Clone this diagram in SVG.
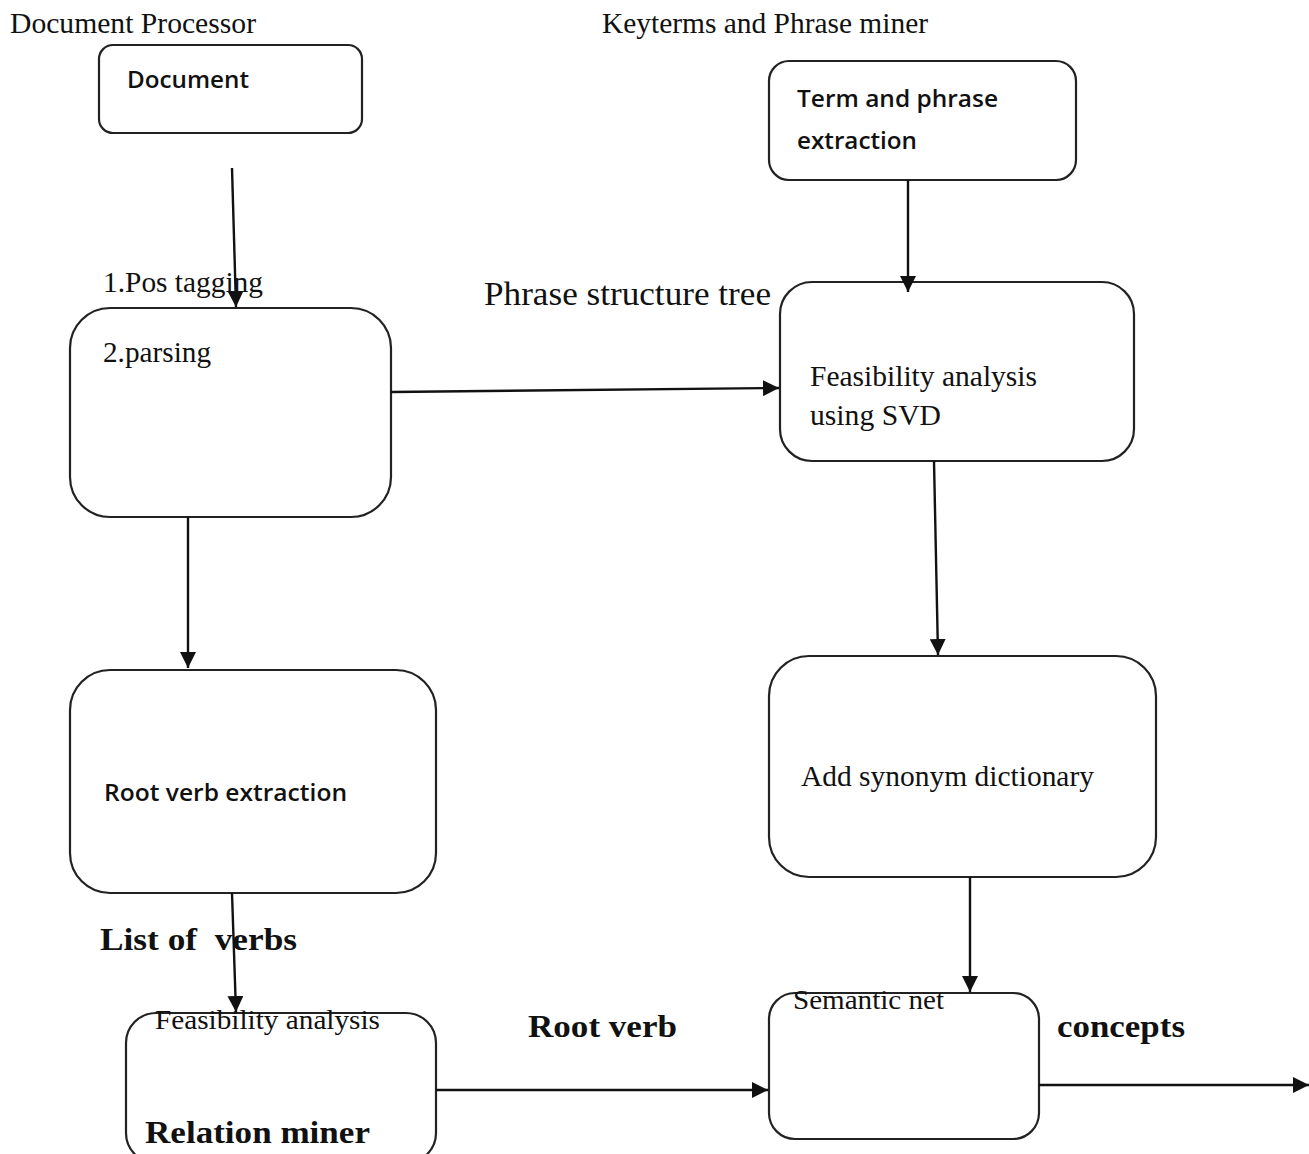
<svg xmlns="http://www.w3.org/2000/svg" width="1309" height="1154" viewBox="0 0 1309 1154">
<style>
.box{fill:#fff;stroke:#222;stroke-width:2.2}
.c{stroke:#111;stroke-width:2.4;fill:none}
.t{font-family:"Liberation Serif","Times New Roman",serif;fill:#111}
.b{font-family:"Liberation Serif","Times New Roman",serif;font-weight:bold;fill:#111}
.s{font-family:"Open Sans","Liberation Sans",Arial,sans-serif;fill:#111;font-weight:600}
</style>
<defs>
<marker id="ah" markerUnits="userSpaceOnUse" markerWidth="18" markerHeight="16" refX="16" refY="8" orient="auto">
<path d="M0,0 L16,8 L0,16 Z" fill="#111"/>
</marker>
</defs>
<rect width="1309" height="1154" fill="#fff"/>
<text class="t" x="10" y="33" font-size="29" textLength="246" lengthAdjust="spacingAndGlyphs">Document Processor</text>
<text class="t" x="602" y="33" font-size="29" textLength="326" lengthAdjust="spacingAndGlyphs">Keyterms and Phrase miner</text>
<g id="document">
<rect class="box" x="99" y="45" width="263" height="88" rx="14"/>
<text class="s" x="127" y="88" font-size="24" textLength="122" lengthAdjust="spacingAndGlyphs">Document</text>
</g>
<g id="term">
<rect class="box" x="769" y="61" width="307" height="119" rx="20"/>
<text class="s" x="797" y="107" font-size="24" textLength="201" lengthAdjust="spacingAndGlyphs">Term and phrase</text>
<text class="s" x="797" y="149" font-size="24" textLength="120" lengthAdjust="spacingAndGlyphs">extraction</text>
</g>
<g id="parsing">
<rect class="box" x="70" y="308" width="321" height="209" rx="40"/>
<text class="t" x="103" y="362" font-size="29" textLength="108" lengthAdjust="spacingAndGlyphs">2.parsing</text>
</g>
<text class="t" x="103" y="292" font-size="29" textLength="160" lengthAdjust="spacingAndGlyphs">1.Pos tagging</text>
<text class="t" x="484" y="305" font-size="33" textLength="287" lengthAdjust="spacingAndGlyphs">Phrase structure tree</text>
<g id="svd">
<rect class="box" x="780" y="282" width="354" height="179" rx="32"/>
<text class="t" x="810" y="386" font-size="29" textLength="227" lengthAdjust="spacingAndGlyphs">Feasibility analysis</text>
<text class="t" x="810" y="425" font-size="29" textLength="131" lengthAdjust="spacingAndGlyphs">using SVD</text>
</g>
<g id="rootverb">
<rect class="box" x="70" y="670" width="366" height="223" rx="40"/>
<text class="s" x="104" y="801" font-size="24" textLength="243" lengthAdjust="spacingAndGlyphs">Root verb extraction</text>
</g>
<g id="synonym">
<rect class="box" x="769" y="656" width="387" height="221" rx="40"/>
<text class="t" x="801" y="786" font-size="29" textLength="293" lengthAdjust="spacingAndGlyphs">Add synonym dictionary</text>
</g>
<text class="b" x="100" y="950" font-size="31" textLength="197" lengthAdjust="spacingAndGlyphs" xml:space="preserve" style="white-space:pre">List of  verbs</text>
<g id="relation">
<rect class="box" x="126" y="1013" width="310" height="150" rx="30"/>
<text class="t" x="155" y="1029" font-size="27" textLength="225" lengthAdjust="spacingAndGlyphs">Feasibility analysis</text>
<text class="b" x="145" y="1143" font-size="31" textLength="225" lengthAdjust="spacingAndGlyphs">Relation miner</text>
</g>
<text class="b" x="528" y="1037" font-size="31" textLength="149" lengthAdjust="spacingAndGlyphs">Root verb</text>
<g id="semantic">
<rect class="box" x="769" y="993" width="270" height="146" rx="26"/>
<text class="t" x="793" y="1009" font-size="27" textLength="151" lengthAdjust="spacingAndGlyphs">Semantic net</text>
</g>
<text class="b" x="1057" y="1037" font-size="31" textLength="128" lengthAdjust="spacingAndGlyphs">concepts</text>
<g id="connectors">
<line class="c" x1="232" y1="168" x2="236" y2="307" marker-end="url(#ah)"/>
<line class="c" x1="908" y1="180" x2="908" y2="292" marker-end="url(#ah)"/>
<line class="c" x1="391" y1="392" x2="779" y2="388" marker-end="url(#ah)"/>
<line class="c" x1="188" y1="517" x2="188" y2="668" marker-end="url(#ah)"/>
<line class="c" x1="934" y1="461" x2="938" y2="655" marker-end="url(#ah)"/>
<line class="c" x1="232" y1="893" x2="236" y2="1012" marker-end="url(#ah)"/>
<line class="c" x1="970" y1="877" x2="970" y2="992" marker-end="url(#ah)"/>
<line class="c" x1="436" y1="1090" x2="768" y2="1090" marker-end="url(#ah)"/>
<line class="c" x1="1039" y1="1085" x2="1309" y2="1085" marker-end="url(#ah)"/>
</g>
</svg>
